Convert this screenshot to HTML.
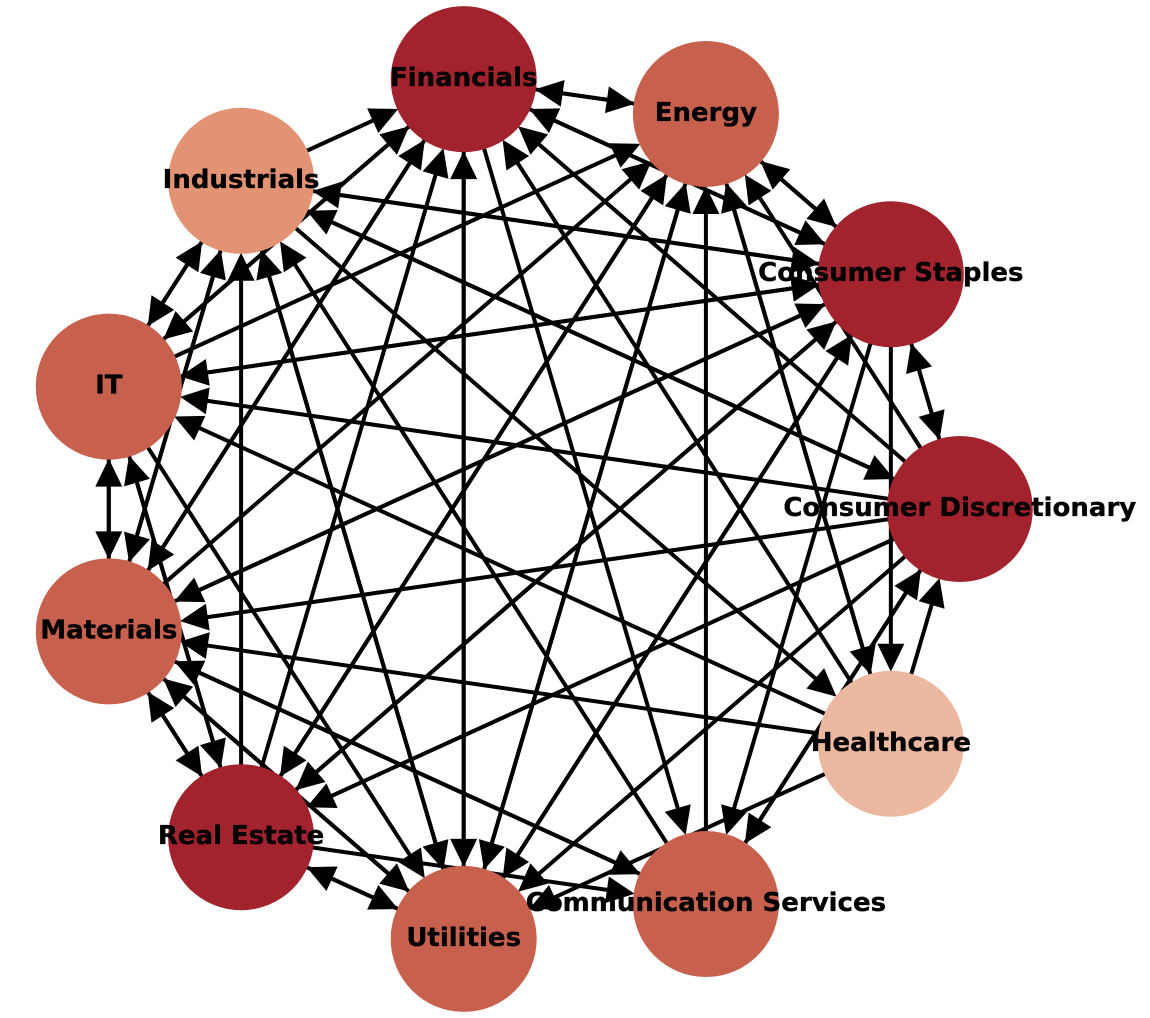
<!DOCTYPE html>
<html>
<head>
<meta charset="utf-8">
<title>Sector network</title>
<style>
html,body{margin:0;padding:0;background:#fff;}
svg{display:block;}
text{font-family:"DejaVu Sans","Liberation Sans",sans-serif;font-weight:bold;fill:#000;stroke:#000;stroke-width:0.35px;text-anchor:middle;}
</style>
</head>
<body>
<svg id="chart" xmlns="http://www.w3.org/2000/svg" width="1150" height="1018" viewBox="0 0 1150 1018"></svg>
<script>
const nodeLabels = ["Consumer Discretionary","Consumer Staples","Energy","Financials","Industrials","IT","Materials","Real Estate","Utilities","Communication Services","Healthcare"];
const nodeLevels = [4,4,3,4,2,3,3,4,3,3,1];
const edgeSources = [
"Financials","Financials","Financials","Financials","Financials","Financials",
"Energy","Energy","Energy","Energy","Energy",
"Consumer Staples","Consumer Staples","Consumer Staples","Consumer Staples","Consumer Staples","Consumer Staples","Consumer Staples","Consumer Staples","Consumer Staples","Consumer Staples",
"Consumer Discretionary","Consumer Discretionary","Consumer Discretionary","Consumer Discretionary","Consumer Discretionary","Consumer Discretionary","Consumer Discretionary","Consumer Discretionary","Consumer Discretionary",
"Healthcare","Healthcare","Healthcare","Healthcare","Healthcare","Healthcare",
"Communication Services","Communication Services","Communication Services","Communication Services",
"Utilities","Utilities","Utilities","Utilities","Utilities","Utilities",
"Real Estate","Real Estate","Real Estate","Real Estate","Real Estate","Real Estate","Real Estate","Real Estate",
"Materials","Materials","Materials","Materials","Materials","Materials","Materials","Materials",
"IT","IT","IT","IT","IT","IT","IT",
"Industrials","Industrials","Industrials","Industrials","Industrials","Industrials","Industrials"
];
const edgeTargets = [
"Energy","Consumer Staples","Communication Services","Utilities","Materials","IT",
"Financials","Consumer Staples","Healthcare","Utilities","Real Estate",
"Financials","Energy","Consumer Discretionary","Healthcare","Communication Services","Utilities","Real Estate","Materials","IT","Industrials",
"Financials","Energy","Consumer Staples","Communication Services","Utilities","Real Estate","Materials","IT","Industrials",
"Financials","Energy","Consumer Discretionary","Utilities","Materials","IT",
"Energy","Consumer Discretionary","Materials","Industrials",
"Financials","Energy","Consumer Staples","Real Estate","Materials","Industrials",
"Financials","Energy","Consumer Staples","Communication Services","Utilities","Materials","IT","Industrials",
"Financials","Energy","Consumer Staples","Communication Services","Utilities","Real Estate","IT","Industrials",
"Financials","Energy","Consumer Staples","Utilities","Real Estate","Materials","Industrials",
"Financials","Consumer Staples","Consumer Discretionary","Healthcare","Utilities","Materials","IT"
];

const SVG_NS = "http://www.w3.org/2000/svg";
const svg = document.getElementById("chart");
const CX = 525.5, CY = 509, RADIUS = 434.3, NODE_R = 73;
const ARROW_LEN = 28, ARROW_HALF = 13.5, FONT_SIZE = 26;
const levelColor = {1:"#ecb89f",2:"#e29374",3:"#c8604e",4:"#a2222e"};

function nodeX(i){ return CX + RADIUS*Math.cos(2*Math.PI*i/nodeLabels.length); }
function nodeY(i){ return CY - RADIUS*Math.sin(2*Math.PI*i/nodeLabels.length); }
function slug(s){ return s.toLowerCase().replace(/\s+/g,"-"); }

const edgeLayer = document.createElementNS(SVG_NS,"g");


svg.appendChild(edgeLayer);
const nodeLayer = document.createElementNS(SVG_NS,"g");


svg.appendChild(nodeLayer);
const labelLayer = document.createElementNS(SVG_NS,"g");


svg.appendChild(labelLayer);

edgeSources.forEach(function(src, k){
  const a = nodeLabels.indexOf(src), b = nodeLabels.indexOf(edgeTargets[k]);
  const x1 = nodeX(a), y1 = nodeY(a), x2 = nodeX(b), y2 = nodeY(b);
  const d = Math.hypot(x2-x1, y2-y1), ux = (x2-x1)/d, uy = (y2-y1)/d;
  const tipX = x2-ux*(NODE_R-1), tipY = y2-uy*(NODE_R-1);
  const baseX = tipX-ux*ARROW_LEN, baseY = tipY-uy*ARROW_LEN;
  const line = document.createElementNS(SVG_NS,"line");
  line.setAttribute("x1", x1);
  line.setAttribute("y1", y1);
  line.setAttribute("x2", baseX+ux*2);
  line.setAttribute("y2", baseY+uy*2);
  line.setAttribute("stroke", "#000");
  line.setAttribute("stroke-width", "4");
  
  
  edgeLayer.appendChild(line);
  const head = document.createElementNS(SVG_NS,"polygon");
  head.setAttribute("points", [
    tipX+","+tipY,
    (baseX-uy*ARROW_HALF)+","+(baseY+ux*ARROW_HALF),
    (baseX+uy*ARROW_HALF)+","+(baseY-ux*ARROW_HALF)
  ].join(" "));
  head.setAttribute("fill", "#000");
  
  
  edgeLayer.appendChild(head);
});

nodeLabels.forEach(function(label, i){
  const c = document.createElementNS(SVG_NS,"circle");
  c.setAttribute("cx", nodeX(i));
  c.setAttribute("cy", nodeY(i));
  c.setAttribute("r", NODE_R);
  c.setAttribute("fill", levelColor[nodeLevels[i]]);
  
  
  nodeLayer.appendChild(c);
  const t = document.createElementNS(SVG_NS,"text");
  t.setAttribute("x", nodeX(i));
  t.setAttribute("y", nodeY(i)+7);
  t.setAttribute("font-size", FONT_SIZE);
  t.textContent = label;
  
  
  labelLayer.appendChild(t);
});
</script>
</body>
</html>
